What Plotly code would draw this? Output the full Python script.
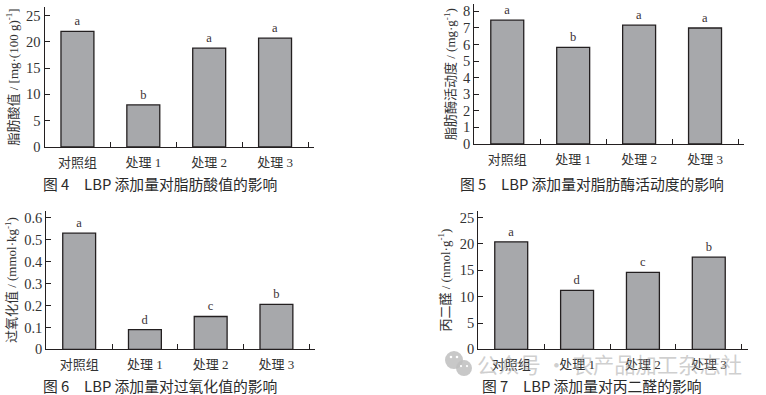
import plotly.graph_objects as go

W, H = 766, 395
HP = 387  # drawn paper height used to place panels
categories = ["对照组", "处理 1", "处理 2", "处理 3"]
v4 = [22.0, 8.0, 18.8, 20.7]
v5 = [7.47, 5.83, 7.17, 7.0]
v6 = [0.53, 0.09, 0.15, 0.205]
v7 = [20.4, 11.2, 14.6, 17.5]
l4 = ["a", "b", "a", "a"]
l5 = ["a", "b", "a", "a"]
l6 = ["a", "d", "c", "b"]
l7 = ["a", "d", "c", "b"]
t4 = "脂肪酸值 / [mg·(100 g)<sup>-1</sup>]"
t5 = "脂肪酶活动度 / (mg·g<sup>-1</sup>)"
t6 = "过氧化值 / (mmol·kg<sup>-1</sup>)"
t7 = "丙二醛 / (nmol·g<sup>-1</sup>)"
caps = ["图 4　LBP 添加量对脂肪酸值的影响", "图 5　LBP 添加量对脂肪酶活动度的影响",
        "图 6　LBP 添加量对过氧化值的影响", "图 7　LBP 添加量对丙二醛的影响"]
yt4 = [0, 5, 10, 15, 20, 25]
yt5 = [0, 1, 2, 3, 4, 5, 6, 7, 8]
yt6 = [0, 0.1, 0.2, 0.3, 0.4, 0.5, 0.6]
yt7 = [0, 5, 10, 15, 20, 25]
ytt6 = ["0", "0.1", "0.2", "0.3", "0.4", "0.5", "0.6"]

# left, right, top, bottom px; ymax; title standoff
panels = [
    (v4, l4, t4, yt4, None, 44.5, 314, 6, 146.3, 26.65, 4),
    (v5, l5, t5, yt5, None, 474.3, 744, 3.3, 143.3, 8.43, 4),
    (v6, l6, t6, yt6, ytt6, 46.3, 315.3, 210.3, 349.3, 0.632, 4),
    (v7, l7, t7, yt7, None, 478.3, 747.7, 210.3, 349.3, 26.3, 6),
]
SERIF = "Liberation Serif, Noto Sans CJK SC"
INK = "#231f20"
fig = go.Figure()
layout = {}
for i, (v, l, t, yt, ytt, x0, x1, y0, y1, ymax, so) in enumerate(panels, 1):
    s = "" if i == 1 else str(i)
    fig.add_trace(go.Bar(x=categories, y=v, text=l, textposition="outside", cliponaxis=False,
                         textfont=dict(family=SERIF, size=12.5, color="#3a3035"),
                         marker=dict(color="#a7a8ab", line=dict(color=INK, width=1.3)),
                         width=0.5, xaxis="x" + s, yaxis="y" + s, showlegend=False))
    step = (x1 - x0 - 6) / 4
    layout["xaxis" + s] = dict(domain=[x0 / W, x1 / W], anchor="y" + s, type="category",
                               range=[-0.5, 3.5 + 6 / step], tickson="boundaries", ticks="inside",
                               ticklen=5, tickwidth=1, tickcolor=INK, showline=True, linecolor=INK,
                               linewidth=1.2, showgrid=False, zeroline=False, ticklabelstandoff=3,
                               tickfont=dict(family=SERIF, size=13, color="#333"))
    layout["yaxis" + s] = dict(domain=[1 - y1 / HP, 1 - y0 / HP], anchor="x" + s, range=[0, ymax],
                               tickvals=yt, ticktext=ytt, ticks="inside", ticklen=5, tickwidth=1,
                               tickcolor=INK, showline=True, linecolor=INK, linewidth=1.2,
                               showgrid=False, zeroline=False,
                               tickfont=dict(family=SERIF, size=14.5, color="#333"),
                               title=dict(text=t, standoff=so, font=dict(family=SERIF, size=13, color="#333")))

cap_pos = [(41, 182.5), (458, 182.5), (41, 385), (480, 385)]
anns = [dict(text=c, x=p[0] / W, y=1 - p[1] / HP, xref="paper", yref="paper", xanchor="left",
             yanchor="middle", showarrow=False,
             font=dict(family="Noto Sans CJK SC", size=14.8, color="#2a2a2a"))
        for c, p in zip(caps, cap_pos)]
anns.append(dict(text="公众号 · 农产品加工杂志社", x=475 / W, y=1 - 363 / HP, xref="paper", yref="paper",
                 xanchor="left", yanchor="middle", showarrow=False,
                 font=dict(family="Noto Sans CJK SC", size=21.3, color="rgba(160,160,160,0.5)")))
GR = "rgba(190,190,190,0.85)"
def circ(cx, cy, r, color):
    return dict(type="circle", xref="paper", yref="paper", x0=(cx - r) / W, x1=(cx + r) / W,
                y0=1 - (cy + r) / HP, y1=1 - (cy - r) / HP, fillcolor=color, line_width=0)
shapes = [circ(454, 360, 9, GR), circ(464, 368, 8, GR),
          circ(451, 357, 1.3, "white"), circ(457, 357, 1.3, "white"),
          circ(461, 366, 1.1, "white"), circ(467, 366, 1.1, "white")]
fig.update_layout(width=W, height=H, margin=dict(l=0, r=0, t=0, b=0), paper_bgcolor="white",
                  plot_bgcolor="white", annotations=anns, shapes=shapes, **layout)
post = ("document.body.style.margin='0';document.body.style.overflow='hidden';"
        "var gd=document.getElementById('{plot_id}');gd.style.height='395px';gd.style.width='766px';"
        "Plotly.relayout(gd,{width:766,height:395});")
fig.write_html("out.html", post_script=post, config={"displayModeBar": False})
